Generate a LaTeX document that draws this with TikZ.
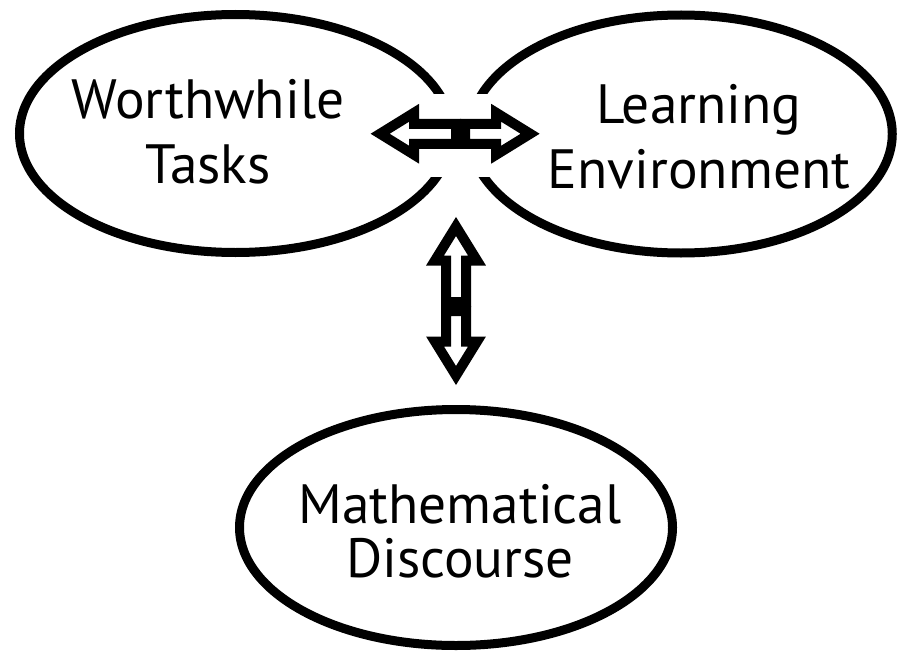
\documentclass[tikz,border=0pt]{standalone}
\usepackage{fontspec}
\setmainfont{PT Sans}
\usetikzlibrary{positioning,calc,shapes.geometric}
\tikzset{
  oval/.style={draw, ellipse, line width=0.18cm, inner sep=0pt, minimum height=4.76cm},
  otext/.style={font=\fontsize{31.5}{37}\selectfont, align=center, inner sep=0pt},
  % one half of a hollow block arrow, tail at the origin, pointing along +x
  halfarrow/.pic={
    \filldraw[fill=white, line width=0.2cm, miter limit=10]
      (0.09,-0.2) -- ({#1-0.68},-0.2) -- ({#1-0.68},-0.42) -- (#1,0)
      -- ({#1-0.68},0.42) -- ({#1-0.68},0.2) -- (0.09,0.2) -- cycle;
  },
}
\begin{document}
\begin{tikzpicture}
\useasboundingbox (0,0) rectangle (17.96,-13.02);
% the three ovals
\node[oval, minimum width=8.64cm] (tasks) at (4.71,-2.67) {};
\node[oval, minimum width=8.45cm] (env) at (13.62,-2.68) {};
\node[oval, minimum width=8.66cm, minimum height=4.72cm] (discourse) at (9.12,-10.55) {};
% their labels
\node[otext] (tasksText) at (4.16,-2.63) {Worthwhile\\Tasks};
\node[otext] (envText) at (13.98,-2.73) {Learning\\Environment};
\node[otext, font=\fontsize{31.5}{30.7}\selectfont] (discText) at (9.2,-10.62) {Mathematical\\Discourse};
% where the arrow pairs meet
\coordinate (hmid) at ($(tasks.east)!0.5!(env.west)$);
\coordinate (vmid) at ($(discourse.north)+(0,1.97)$);
% clear the outlines around the horizontal pair
\fill[white] ($(hmid)+(-1.92,0.8)$) rectangle ($(hmid)+(1.72,-0.86)$);
% block arrows
\pic[rotate=180] at (hmid) {halfarrow=1.61};
\pic at (hmid) {halfarrow=1.39};
\pic[rotate=90] at (vmid) {halfarrow=1.60};
\pic[rotate=-90] at (vmid) {halfarrow=1.38};
\end{tikzpicture}
\end{document}
